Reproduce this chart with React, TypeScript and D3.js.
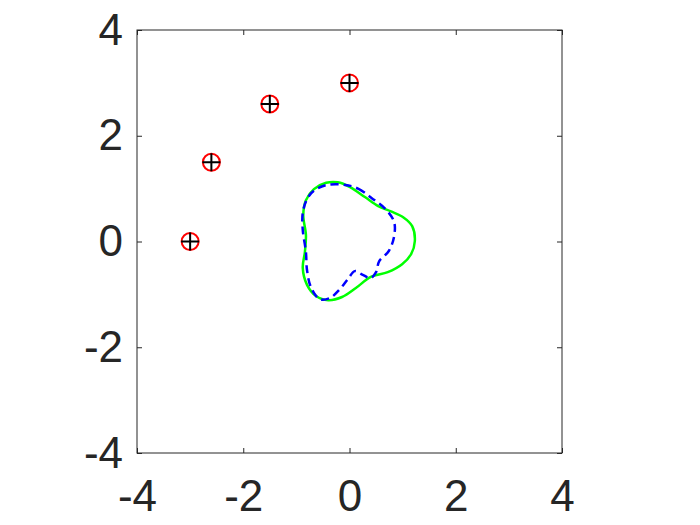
import React, { useRef, useEffect } from "react";
import * as d3 from "d3";

// ring of measured points (circle marker + plus marker on each)
const pointX = [-3, -2.6, -1.5, 0];
const pointY = [0, 1.5, 2.6, 3];

// solid green closed curve
const greenX = [1.23, 1.18, 1.01, 0.78, 0.54, 0.29, 0.01, -0.22, -0.44, -0.67, -0.82, -0.87, -0.82, -0.84, -0.88, -0.8, -0.63, -0.4, -0.14, 0.12, 0.4, 0.72, 0.99, 1.16];
const greenY = [0.01, 0.29, 0.46, 0.57, 0.67, 0.84, 1.03, 1.12, 1.11, 0.99, 0.78, 0.5, 0.12, -0.2, -0.5, -0.82, -1.03, -1.11, -1.05, -0.88, -0.67, -0.58, -0.43, -0.24];

// dashed blue closed curve
const blueX = [-0.08, 0.16, 0.42, 0.69, 0.84, 0.84, 0.74, 0.56, 0.5, 0.4, 0.25, 0.1, -0.03, -0.18, -0.37, -0.56, -0.72, -0.8, -0.82, -0.88, -0.88, -0.8, -0.67, -0.42];
const blueY = [1.07, 1.0, 0.82, 0.6, 0.37, 0.1, -0.18, -0.37, -0.58, -0.69, -0.63, -0.56, -0.71, -0.9, -1.07, -1.09, -0.88, -0.54, -0.2, 0.22, 0.54, 0.8, 0.96, 1.07];

const ticks = [-4, -2, 0, 2, 4];
const tickLabels = ["-4", "-2", "0", "2", "4"];
const domain = [-4, 4];

const App = () => {
    const svgRef = useRef(null);
    const width = 700;
    const height = 525;
    const margin = { top: 30, right: 138, bottom: 72, left: 137 };

    useEffect(() => {
        const svg = d3.select(svgRef.current);
        svg.selectAll("*").remove();
        svg.attr("width", width).attr("height", height);

        const x = d3.scaleLinear().domain(domain).range([margin.left, width - margin.right]);
        const y = d3.scaleLinear().domain(domain).range([height - margin.bottom, margin.top]);

        const fontFamily = "'Liberation Sans', Arial, Helvetica, sans-serif";
        const axisColor = "#262626";
        const label = (d) => tickLabels[ticks.indexOf(d)];

        const styleAxis = (g) => {
            g.select(".domain").remove();
            g.selectAll("line").attr("stroke", axisColor).attr("stroke-width", 1);
            g.selectAll("text").attr("fill", axisColor).attr("font-family", fontFamily).attr("font-size", 44);
        };

        // bottom / left axes with inward ticks
        svg.append("g")
            .attr("transform", "translate(0," + y(-4) + ")")
            .call(d3.axisBottom(x).tickValues(ticks).tickSizeInner(-5).tickSizeOuter(0).tickPadding(27).tickFormat(label))
            .call(styleAxis);
        svg.append("g")
            .attr("transform", "translate(" + x(-4) + ",0)")
            .call(d3.axisLeft(y).tickValues(ticks).tickSizeInner(-5).tickSizeOuter(0).tickPadding(14).tickFormat(label))
            .call(styleAxis);
        // top / right mirrored ticks, no labels
        svg.append("g")
            .attr("transform", "translate(0," + y(4) + ")")
            .call(d3.axisTop(x).tickValues(ticks).tickSizeInner(-5).tickSizeOuter(0).tickFormat(() => ""))
            .call(styleAxis);
        svg.append("g")
            .attr("transform", "translate(" + x(4) + ",0)")
            .call(d3.axisRight(y).tickValues(ticks).tickSizeInner(-5).tickSizeOuter(0).tickFormat(() => ""))
            .call(styleAxis);

        // box
        svg.append("rect")
            .attr("x", x(-4)).attr("y", y(4))
            .attr("width", x(4) - x(-4)).attr("height", y(-4) - y(4))
            .attr("fill", "none").attr("stroke", axisColor).attr("stroke-width", 1);

        const loop = d3.line().x((d) => x(d[0])).y((d) => y(d[1])).curve(d3.curveCatmullRomClosed);

        const green = greenX.map((v, i) => [v, greenY[i]]);
        const blue = blueX.map((v, i) => [v, blueY[i]]);

        svg.append("path").attr("d", loop(green))
            .attr("fill", "none").attr("stroke", "#00ff00").attr("stroke-width", 2.5);
        svg.append("path").attr("d", loop(blue))
            .attr("fill", "none").attr("stroke", "#0000ff").attr("stroke-width", 2.5)
            .style("stroke-dasharray", "8, 5");

        const pts = pointX.map((v, i) => [v, pointY[i]]);
        svg.selectAll(".ring").data(pts).enter().append("circle")
            .attr("class", "ring")
            .attr("cx", (d) => x(d[0])).attr("cy", (d) => y(d[1])).attr("r", 8.5)
            .attr("fill", "none").attr("stroke", "#ff0000").attr("stroke-width", 2);
        svg.selectAll(".plus").data(pts).enter().append("path")
            .attr("class", "plus")
            .attr("transform", (d) => "translate(" + x(d[0]) + "," + y(d[1]) + ")")
            .attr("d", "M-9,0H9M0,-9V9")
            .attr("fill", "none").attr("stroke", "#000000").attr("stroke-width", 2);
    }, []);

    return (
        <div style={{ position: "absolute", left: 0, top: 0 }}>
            <svg ref={svgRef} style={{ display: "block" }}></svg>
        </div>
    );
};

export default App;
